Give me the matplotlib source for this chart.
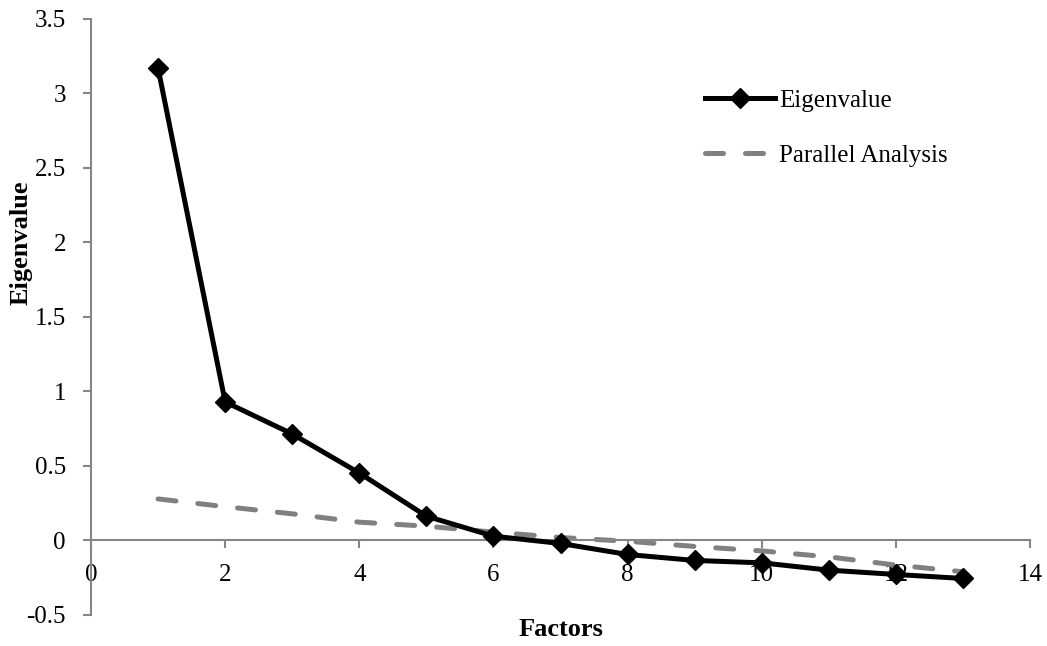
import numpy as np
import matplotlib.pyplot as plt

plt.rcParams['font.family'] = ['Liberation Serif', 'DejaVu Serif']

factors = [1, 2, 3, 4, 5, 6, 7, 8, 9, 10, 11, 12, 13]
eigenvalue = [3.17, 0.93, 0.715, 0.453, 0.163, 0.029, -0.02, -0.094,
              -0.134, -0.15, -0.199, -0.228, -0.255]
parallel = [0.279, 0.227, 0.179, 0.123, 0.096, 0.056, 0.02, -0.005,
            -0.04, -0.07, -0.11, -0.165, -0.21]

fig = plt.figure(figsize=(10.47, 6.46), dpi=100)
ax = fig.add_axes([0.0869, 0.048, 0.897, 0.9226])

spine_col = '#868686'
ax.plot(factors, eigenvalue, color='black', lw=3.6, marker='D', ms=10,
        label='Eigenvalue', zorder=3)
ax.plot(factors, parallel, color='#808080', lw=3.6, dashes=(3.6, 4.4),
        dash_capstyle='round', label='Parallel Analysis', zorder=2)

ax.set_xlim(0, 14)
ax.set_ylim(-0.5, 3.5)
ax.set_xticks(np.arange(0, 15, 2))
ax.set_yticks(np.arange(-0.5, 3.51, 0.5))
ax.set_yticklabels(['-0.5', '0', '0.5', '1', '1.5', '2', '2.5', '3', '3.5'])

ax.spines['top'].set_visible(False)
ax.spines['right'].set_visible(False)
ax.spines['bottom'].set_position(('data', 0))
for s in ['left', 'bottom']:
    ax.spines[s].set_color(spine_col)
    ax.spines[s].set_linewidth(1.5)
ax.tick_params(axis='both', color=spine_col, width=1.5, length=6,
               labelsize=18, direction='out')
ax.tick_params(axis='x', pad=11)
ax.tick_params(axis='y', pad=12)

ax.set_xlabel('Factors', fontsize=19, fontweight='bold', va='top')
ax.xaxis.set_label_coords(0.5, -0.005)
ax.set_ylabel('Eigenvalue', fontsize=19, fontweight='bold')
ax.yaxis.set_label_coords(-0.062, 0.624)

ax.legend(loc='upper left', bbox_to_anchor=(0.652, 0.896),
          bbox_transform=fig.transFigure, frameon=False, fontsize=18,
          handlelength=2.8, handletextpad=0.15, labelspacing=1.3)

fig.savefig('out.png', dpi=100)
